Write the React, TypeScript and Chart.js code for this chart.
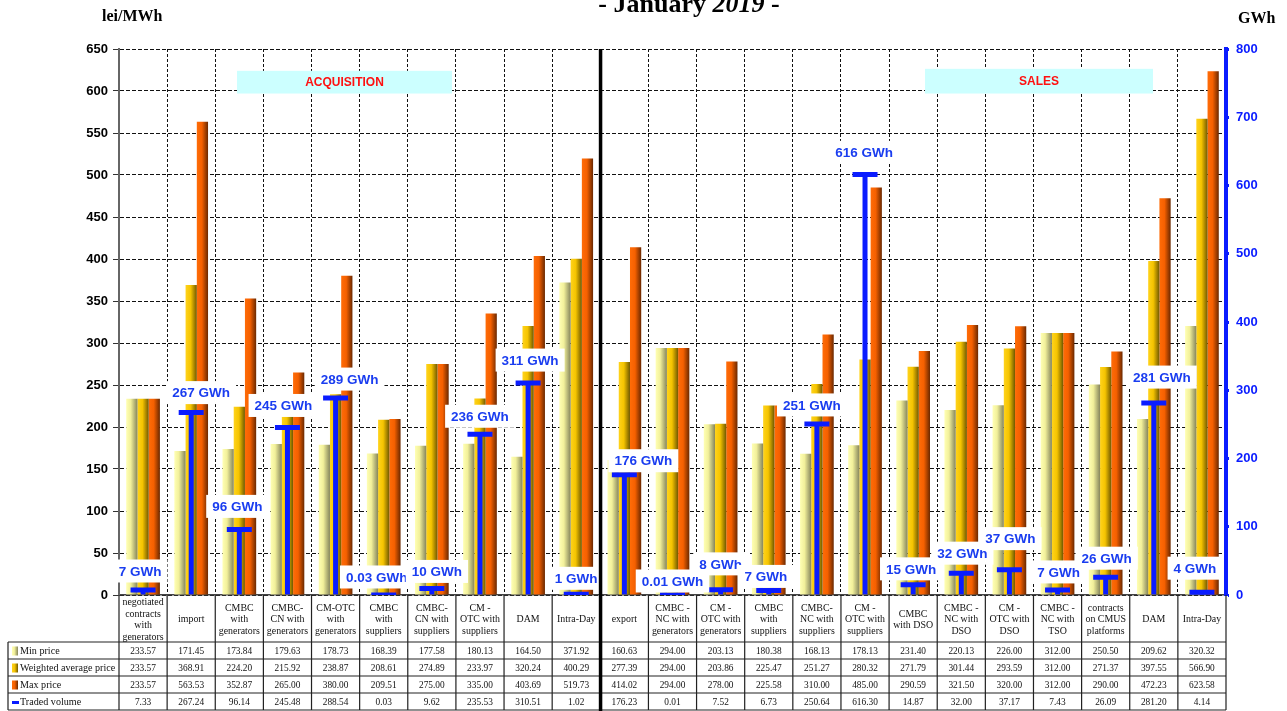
import React, { useEffect, useRef } from 'react';
import { Chart, registerables } from 'chart.js';

Chart.register(...registerables);

// ---------- DATA ----------
const categories: string[][] = [
  ['negotiated', 'contracts', 'with', 'generators'],
  ['import'],
  ['CMBC', 'with', 'generators'],
  ['CMBC-', 'CN with', 'generators'],
  ['CM-OTC', 'with', 'generators'],
  ['CMBC', 'with', 'suppliers'],
  ['CMBC-', 'CN with', 'suppliers'],
  ['CM -', 'OTC with', 'suppliers'],
  ['DAM'],
  ['Intra-Day'],
  ['export'],
  ['CMBC -', 'NC with', 'generators'],
  ['CM -', 'OTC with', 'generators'],
  ['CMBC', 'with', 'suppliers'],
  ['CMBC-', 'NC with', 'suppliers'],
  ['CM -', 'OTC with', 'suppliers'],
  ['CMBC', 'with DSO'],
  ['CMBC -', 'NC with', 'DSO'],
  ['CM -', 'OTC with', 'DSO'],
  ['CMBC -', 'NC with', 'TSO'],
  ['contracts', 'on CMUS', 'platforms'],
  ['DAM'],
  ['Intra-Day'],
];

const minPrice = [233.57, 171.45, 173.84, 179.63, 178.73, 168.39, 177.58, 180.13, 164.5, 371.92, 160.63, 294.0, 203.13, 180.38, 168.13, 178.13, 231.4, 220.13, 226.0, 312.0, 250.5, 209.62, 320.32];
const avgPrice = [233.57, 368.91, 224.2, 215.92, 238.87, 208.61, 274.89, 233.97, 320.24, 400.29, 277.39, 294.0, 203.86, 225.47, 251.27, 280.32, 271.79, 301.44, 293.59, 312.0, 271.37, 397.55, 566.9];
const maxPrice = [233.57, 563.53, 352.87, 265.0, 380.0, 209.51, 275.0, 335.0, 403.69, 519.73, 414.02, 294.0, 278.0, 225.58, 310.0, 485.0, 290.59, 321.5, 320.0, 312.0, 290.0, 472.23, 623.58];
const tradedVolume = [7.33, 267.24, 96.14, 245.48, 288.54, 0.03, 9.62, 235.53, 310.51, 1.02, 176.23, 0.01, 7.52, 6.73, 250.64, 616.3, 14.87, 32.0, 37.17, 7.43, 26.09, 281.2, 4.14];

const rowNames = ['Min price', 'Weighted average price', 'Max price', 'Traded volume'];
const priceAxisMax = 650;
const priceStep = 50;
const volumeAxisMax = 800;
const volumeStep = 100;
const acquisitionCount = 10; // first 10 categories are acquisition

// ---------- STYLE ----------
const BLUE = '#0a1cff';
const LABEL_BLUE = '#1a3df0';
const CAT_PCT = 0.7;
const minStops: [number, string][] = [[0, '#ffffb4'], [0.4, '#f2f09a'], [1, '#85855c']];
const avgStops: [number, string][] = [[0, '#ffd31c'], [0.45, '#f5c400'], [1, '#705800']];
const maxStops: [number, string][] = [[0, '#ff6c08'], [0.45, '#f56000'], [1, '#6a2800']];
// small placement nudges for the volume call-outs (pixels, relative to default spot above the cap)
const labelNudgeX = [-3, 10, -2, -4, 14, -7, 5, 0, 2, 0, 19, 0, 0, -3, -5, -1, -2, 1, 1, 1, 1, 8, -7];
const labelNudgeY = [1, 0, -3, -2, 1, 2, 3, 2, -3, 4, 6, 6, -6, 6, 1, -2, 4, 0, -11, 2, 1, -6, -4];

function gradientFor(stops: [number, string][]) {
  return (c: any) => {
    const chart = c.chart;
    const xs = chart.scales && chart.scales.x;
    if (c.type !== 'data' || !xs || xs.right === undefined) return stops[1][1];
    const ds = c.datasetIndex;
    const center = xs.getPixelForValue(c.dataIndex);
    const cw = (xs.right - xs.left) / categories.length;
    const gw = cw * CAT_PCT;
    const bw = gw / 3;
    const l = center - gw / 2 + ds * bw;
    const g = chart.ctx.createLinearGradient(l, 0, l + bw, 0);
    stops.forEach(([o, col]) => g.addColorStop(o, col));
    return g;
  };
}

function fmtVol(v: number) {
  return v < 1 ? v.toFixed(2) : String(Math.round(v));
}

function squeezeText(ctx: CanvasRenderingContext2D, t: string, x: number, y: number, align: CanvasTextAlign, sx: number) {
  ctx.save();
  ctx.translate(x, y);
  ctx.scale(sx, 1);
  ctx.textAlign = align;
  ctx.fillText(t, 0, 0);
  ctx.restore();
}

const decorPlugin = {
  id: 'decor',
  beforeDatasetsDraw(chart: any) {
    const ctx: CanvasRenderingContext2D = chart.ctx;
    const ys = chart.scales.y;
    ctx.save();
    const boxes = [
      { x1: 237, x2: 452, text: 'ACQUISITION' },
      { x1: 925, x2: 1153, text: 'SALES' },
    ];
    const yTop = ys.getPixelForValue(624);
    const yBot = ys.getPixelForValue(597);
    boxes.forEach((b, i) => {
      const t = i === 1 ? yTop - 2 : yTop;
      ctx.fillStyle = '#ccffff';
      ctx.fillRect(b.x1, t, b.x2 - b.x1, yBot - t);
      ctx.fillStyle = '#ff1010';
      ctx.font = 'bold 12px "Liberation Sans", Arial, sans-serif';
      ctx.textAlign = 'center';
      ctx.textBaseline = 'middle';
      ctx.fillText(b.text, (b.x1 + b.x2) / 2, (t + yBot) / 2 + 0.5);
    });
    ctx.restore();
  },
  afterDatasetsDraw(chart: any) {
    const ctx: CanvasRenderingContext2D = chart.ctx;
    const xs = chart.scales.x;
    const y1 = chart.scales.y1;
    ctx.save();
    ctx.font = 'bold 13.5px "Liberation Sans", Arial, sans-serif';
    ctx.textAlign = 'center';
    ctx.textBaseline = 'middle';
    tradedVolume.forEach((v, i) => {
      const label = fmtVol(v) + ' GWh';
      const cx = xs.getPixelForValue(i) + labelNudgeX[i];
      const cy = y1.getPixelForValue(v) - 20 + labelNudgeY[i];
      const w = ctx.measureText(label).width + 12;
      ctx.fillStyle = '#ffffff';
      ctx.fillRect(cx - w / 2, cy - 11.5, w, 23);
      ctx.fillStyle = LABEL_BLUE;
      ctx.fillText(label, cx, cy + 1);
    });
    ctx.restore();
  },
  afterDraw(chart: any) {
    const ctx: CanvasRenderingContext2D = chart.ctx;
    const area = chart.chartArea;
    const xs = chart.scales.x;
    const n = categories.length;
    const left = area.left;
    const right = area.right;
    const cw = (right - left) / n;
    const top = area.bottom;
    const headerBottom = top + 47;
    const rowH = 17;
    const tableBottom = headerBottom + rowH * 4;
    const tableLeft = 8;

    ctx.save();
    ctx.strokeStyle = '#222';
    ctx.lineWidth = 1.2;
    ctx.beginPath();
    for (let k = 0; k <= 4; k++) {
      const y = headerBottom + k * rowH;
      ctx.moveTo(tableLeft, y);
      ctx.lineTo(right, y);
    }
    for (let i = 0; i <= n; i++) {
      const x = left + i * cw;
      ctx.moveTo(x, top);
      ctx.lineTo(x, tableBottom);
    }
    ctx.moveTo(tableLeft, headerBottom);
    ctx.lineTo(tableLeft, tableBottom);
    ctx.stroke();

    ctx.fillStyle = '#111';
    ctx.font = '11px "Liberation Serif", "Times New Roman", serif';
    ctx.textBaseline = 'middle';
    const lineH = 11.5;
    const hc = (top + headerBottom) / 2 + 1;
    categories.forEach((lines, i) => {
      const cx = xs.getPixelForValue(i);
      const y0 = hc - ((lines.length - 1) * lineH) / 2;
      lines.forEach((ln, j) => squeezeText(ctx, ln, cx, y0 + j * lineH, 'center', 0.9));
    });

    const rows = [minPrice, avgPrice, maxPrice, tradedVolume];
    rows.forEach((vals, r) => {
      const cy = headerBottom + r * rowH + rowH / 2 + 0.5;
      vals.forEach((v, i) => {
        squeezeText(ctx, v.toFixed(2), xs.getPixelForValue(i), cy, 'center', 0.85);
      });
      const stops = [minStops, avgStops, maxStops][r];
      if (stops) {
        const g = ctx.createLinearGradient(12, 0, 18, 0);
        stops.forEach(([o, col]) => g.addColorStop(o, col));
        ctx.fillStyle = g;
        ctx.fillRect(12, cy - 4.5, 6, 9);
      } else {
        ctx.fillStyle = BLUE;
        ctx.fillRect(12, cy - 1, 7, 3);
      }
      ctx.fillStyle = '#111';
      squeezeText(ctx, rowNames[r], 20, cy, 'left', 0.92);
    });

    const sepX = left + acquisitionCount * cw;
    ctx.fillStyle = '#000';
    ctx.fillRect(sepX - 1.5, area.top, 3.5, tableBottom - area.top + 2);

    ctx.fillStyle = '#000';
    ctx.textAlign = 'left';
    ctx.textBaseline = 'middle';
    ctx.font = 'bold 16px "Liberation Serif", "Times New Roman", serif';
    ctx.fillText('lei/MWh', 102, 17);
    ctx.fillText('GWh', 1238, 19);

    const parts: [string, string][] = [
      ['- January ', 'bold 26px "Liberation Serif", "Times New Roman", serif'],
      ['2019', 'italic bold 26px "Liberation Serif", "Times New Roman", serif'],
      [' -', 'bold 26px "Liberation Serif", "Times New Roman", serif'],
    ];
    let total = 0;
    parts.forEach(([t, f]) => { ctx.font = f; total += ctx.measureText(t).width; });
    let x = 689 - total / 2;
    ctx.textBaseline = 'alphabetic';
    parts.forEach(([t, f]) => {
      ctx.font = f;
      ctx.fillText(t, x, 12);
      x += ctx.measureText(t).width;
    });
    ctx.restore();
  },
};

export default function App() {
  const ref = useRef<HTMLCanvasElement | null>(null);

  useEffect(() => {
    if (!ref.current) return;
    const labels = categories.map((c) => c.join(' '));
    const chart = new Chart(ref.current, {
      type: 'bar',
      data: {
        labels,
        datasets: [
          {
            type: 'bar',
            label: rowNames[0],
            data: minPrice,
            yAxisID: 'y',
            order: 2,
            backgroundColor: gradientFor(minStops) as any,
            categoryPercentage: CAT_PCT,
            barPercentage: 1,
            borderWidth: 0,
          },
          {
            type: 'bar',
            label: rowNames[1],
            data: avgPrice,
            yAxisID: 'y',
            order: 2,
            backgroundColor: gradientFor(avgStops) as any,
            categoryPercentage: CAT_PCT,
            barPercentage: 1,
            borderWidth: 0,
          },
          {
            type: 'bar',
            label: rowNames[2],
            data: maxPrice,
            yAxisID: 'y',
            order: 2,
            backgroundColor: gradientFor(maxStops) as any,
            categoryPercentage: CAT_PCT,
            barPercentage: 1,
            borderWidth: 0,
          },
          {
            type: 'bar',
            label: rowNames[3],
            data: tradedVolume,
            yAxisID: 'y1',
            order: 1,
            grouped: false,
            maxBarThickness: 5,
            backgroundColor: BLUE,
            borderWidth: 0,
          } as any,
          {
            type: 'line',
            label: rowNames[3] + ' cap',
            data: tradedVolume,
            yAxisID: 'y1',
            order: 0,
            showLine: false,
            pointStyle: 'line',
            pointRadius: 12.5,
            pointBorderWidth: 5,
            pointBorderColor: BLUE,
            pointBackgroundColor: BLUE,
          } as any,
        ],
      },
      options: {
        responsive: false,
        animation: false,
        events: [],
        layout: { padding: { top: 49, left: 0, right: 0, bottom: 0 } },
        plugins: {
          legend: { display: false },
          tooltip: { enabled: false },
          title: { display: false },
        },
        scales: {
          x: {
            type: 'category',
            offset: true,
            ticks: { display: false },
            grid: { color: '#111', lineWidth: 1, drawTicks: false, offset: true },
            border: { color: '#444', width: 1.5, dash: [3, 2] },
            afterFit: (s: any) => { s.height = 116; },
          } as any,
          y: {
            position: 'left',
            min: 0,
            max: priceAxisMax,
            ticks: {
              stepSize: priceStep,
              color: '#000',
              padding: 5,
              font: { family: '"Liberation Sans", Arial, sans-serif', size: 13, weight: 'bold' },
            },
            grid: { color: '#111', lineWidth: 1, tickLength: 6, tickColor: '#333' },
            border: { color: '#666', width: 2, dash: [4, 2] },
            afterFit: (s: any) => { s.width = 119; },
          } as any,
          y1: {
            position: 'right',
            min: 0,
            max: volumeAxisMax,
            ticks: {
              stepSize: volumeStep,
              color: BLUE,
              padding: 7,
              font: { family: '"Liberation Sans", Arial, sans-serif', size: 13, weight: 'bold' },
            },
            grid: { drawOnChartArea: false, tickLength: 3, tickColor: BLUE, tickWidth: 3 },
            border: { color: BLUE, width: 4 },
            afterFit: (s: any) => { s.width = 61; },
          } as any,
        },
      },
      plugins: [decorPlugin],
    });
    return () => chart.destroy();
  }, []);

  return (
    <div style={{ position: 'fixed', left: 0, top: 0, width: 1287, height: 711, background: '#fff' }}>
      <canvas ref={ref} width={1287} height={711} style={{ display: 'block' }} />
    </div>
  );
}
